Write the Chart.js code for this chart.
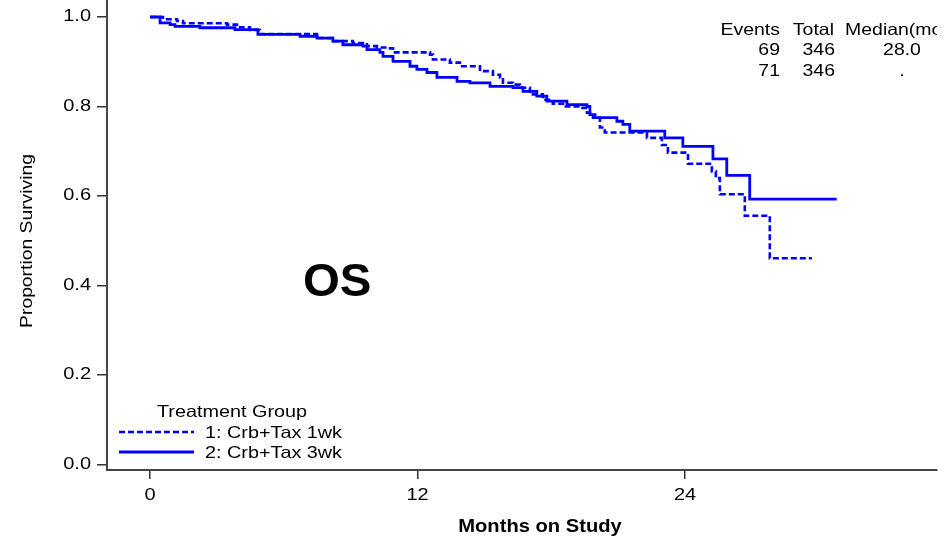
<!DOCTYPE html>
<html>
<head>
<meta charset="utf-8">
<script src="https://cdn.jsdelivr.net/npm/chart.js@4.4.0/dist/chart.umd.min.js"></script>
<style>
  html, body { margin: 0; padding: 0; background: #fff; }
  canvas { display: block; }
</style>
</head>
<body>
<canvas id="c" width="947" height="540"></canvas>
<script>
// ---- data ----
const months1wk = [0, 0.58, 1.21, 1.48, 3.45, 3.9, 4.48, 4.93, 7.49, 8.2, 9.1, 9.73, 10.18, 10.63, 10.9, 12.56, 12.69, 13.45, 13.9, 14.8, 15.38, 15.7, 15.83, 16.28, 16.59, 17.04, 17.62, 18.07, 18.52, 19.28, 19.6, 19.87, 20.18, 20.4, 22.29, 22.96, 23.23, 24.13, 25.2, 25.38, 25.56, 26.68, 27.8, 29.69];
const surv1wk   = [1.0, 0.995, 0.991, 0.986, 0.983, 0.977, 0.971, 0.962, 0.953, 0.946, 0.942, 0.935, 0.932, 0.930, 0.921, 0.916, 0.905, 0.898, 0.890, 0.879, 0.871, 0.865, 0.853, 0.849, 0.842, 0.827, 0.815, 0.806, 0.800, 0.797, 0.786, 0.775, 0.753, 0.742, 0.730, 0.714, 0.697, 0.672, 0.655, 0.640, 0.604, 0.556, 0.461, 0.461];

const months3wk = [0, 0.45, 0.9, 1.12, 2.24, 3.81, 4.84, 6.73, 7.49, 8.2, 8.65, 9.55, 9.73, 10.31, 10.45, 10.9, 11.66, 11.97, 12.42, 12.87, 13.77, 14.35, 15.25, 16.28, 16.73, 17.35, 17.8, 18.7, 19.6, 19.73, 19.96, 20.94, 21.21, 21.52, 23.09, 23.9, 25.25, 25.87, 26.9, 30.8];
const surv3wk   = [1.0, 0.987, 0.983, 0.979, 0.976, 0.972, 0.961, 0.957, 0.953, 0.946, 0.938, 0.935, 0.927, 0.921, 0.912, 0.901, 0.890, 0.883, 0.876, 0.865, 0.856, 0.853, 0.845, 0.842, 0.834, 0.823, 0.812, 0.804, 0.800, 0.782, 0.775, 0.767, 0.760, 0.745, 0.730, 0.711, 0.683, 0.646, 0.593, 0.593];

const seriesLabels = ['1: Crb+Tax 1wk', '2: Crb+Tax 3wk'];
const xTickValues = [0, 12, 24];
const yTickValues = [0, 0.2, 0.4, 0.6, 0.8, 1.0];
const yTickLabels = ['0.0', '0.2', '0.4', '0.6', '0.8', '1.0'];
const xTickLabels = ['0', '12', '24'];

const tableHeader = ['Events', 'Total', 'Median(mos)'];
const tableEvents = ['69', '71'];
const tableTotal = ['346', '346'];
const tableMedian = ['28.0', '.'];

const legendTitle = 'Treatment Group';
const panelLabel = 'OS';
const xTitle = 'Months on Study';
const yTitle = 'Proportion Surviving';

// ---- helpers ----
const toXY = (xs, ys) => xs.map((x, i) => ({ x: x, y: ys[i] }));
const BLUE = '#0000FF';
const FONT = '"Liberation Sans", Arial, sans-serif';

function stretchText(ctx, s, x, y, font, align, sx, baseline) {
  ctx.save();
  ctx.font = font;
  ctx.fillStyle = '#000';
  ctx.textAlign = align;
  ctx.textBaseline = baseline || 'alphabetic';
  ctx.translate(x, y);
  ctx.scale(sx, 1);
  ctx.fillText(s, 0, 0);
  ctx.restore();
}

const decorPlugin = {
  id: 'decor',
  afterDraw(chart) {
    const ctx = chart.ctx;
    const xs = chart.scales.x, ys = chart.scales.y;
    const tickFont = '16px ' + FONT;
    // y tick labels
    ys.ticks.forEach((t, i) => {
      const py = ys.getPixelForValue(t.value);
      stretchText(ctx, yTickLabels[i], 91, py, tickFont, 'right', 1.25, 'middle');
    });
    // x tick labels
    xs.ticks.forEach((t, i) => {
      const px = xs.getPixelForValue(t.value);
      stretchText(ctx, xTickLabels[i], px, 500, tickFont, 'center', 1.25);
    });
    // axis titles
    stretchText(ctx, xTitle, 540, 532, 'bold 18px ' + FONT, 'center', 1.12);
    ctx.save();
    ctx.translate(27, 241);
    ctx.rotate(-Math.PI / 2);
    stretchText(ctx, yTitle, 0, 0, '16.5px ' + FONT, 'center', 1.17, 'middle');
    ctx.restore();
    // panel label
    stretchText(ctx, panelLabel, 303, 296, 'bold 46px ' + FONT, 'left', 1.03);
    // table (clipped at the right edge of the frame, as in the source)
    ctx.save();
    ctx.beginPath();
    ctx.rect(0, 0, 937, 540);
    ctx.clip();
    const tf = '16.5px ' + FONT, sx = 1.18;
    stretchText(ctx, tableHeader[0], 780, 35, tf, 'right', sx);
    stretchText(ctx, tableHeader[1], 834, 35, tf, 'right', sx);
    stretchText(ctx, tableHeader[2], 845, 35, tf, 'left', sx);
    for (let r = 0; r < 2; r++) {
      const by = 55 + r * 20.5;
      stretchText(ctx, tableEvents[r], 780, by, tf, 'right', sx);
      stretchText(ctx, tableTotal[r], 835, by, tf, 'right', sx);
      stretchText(ctx, tableMedian[r], 902, by, tf, 'center', sx);
    }
    ctx.restore();
    // legend
    stretchText(ctx, legendTitle, 157, 417, tf, 'left', 1.2);
    const ds = chart.data.datasets;
    const rows = [432, 452];
    ds.forEach((d, i) => {
      ctx.save();
      ctx.strokeStyle = d.borderColor;
      ctx.lineWidth = d.borderWidth;
      ctx.setLineDash(d.borderDash || []);
      ctx.beginPath();
      ctx.moveTo(119, rows[i]);
      ctx.lineTo(194, rows[i]);
      ctx.stroke();
      ctx.restore();
      stretchText(ctx, d.label, 205, rows[i] + 6, tf, 'left', 1.2);
    });
  }
};

new Chart(document.getElementById('c'), {
  type: 'line',
  data: {
    datasets: [
      {
        label: seriesLabels[0],
        data: toXY(months1wk, surv1wk),
        borderColor: BLUE,
        borderWidth: 2.6,
        borderDash: [6, 3],
        stepped: true,
        pointRadius: 0,
        fill: false
      },
      {
        label: seriesLabels[1],
        data: toXY(months3wk, surv3wk),
        borderColor: BLUE,
        borderWidth: 2.8,
        stepped: true,
        pointRadius: 0,
        fill: false
      }
    ]
  },
  options: {
    responsive: false,
    animation: false,
    devicePixelRatio: 1,
    layout: { padding: { left: 0, right: 10, top: 0, bottom: 0 } },
    plugins: { legend: { display: false }, tooltip: { enabled: false }, title: { display: false } },
    scales: {
      x: {
        type: 'linear',
        min: -1.93,
        max: 35.3,
        afterFit(s) { s.height = 70; },
        afterBuildTicks(s) { s.ticks = xTickValues.map(v => ({ value: v })); },
        ticks: { display: false },
        grid: { display: true, drawOnChartArea: false, drawTicks: true, tickLength: 9, color: '#333', lineWidth: 1.5 },
        border: { display: true, color: '#444', width: 2 }
      },
      y: {
        type: 'linear',
        min: -0.0123,
        max: 1.038,
        afterFit(s) { s.width = 107; },
        afterBuildTicks(s) { s.ticks = yTickValues.map(v => ({ value: v })); },
        ticks: { display: false },
        grid: { display: true, drawOnChartArea: false, drawTicks: true, tickLength: 10, color: '#333', lineWidth: 1.5 },
        border: { display: true, color: '#444', width: 2 }
      }
    }
  },
  plugins: [decorPlugin]
});
</script>
</body>
</html>
